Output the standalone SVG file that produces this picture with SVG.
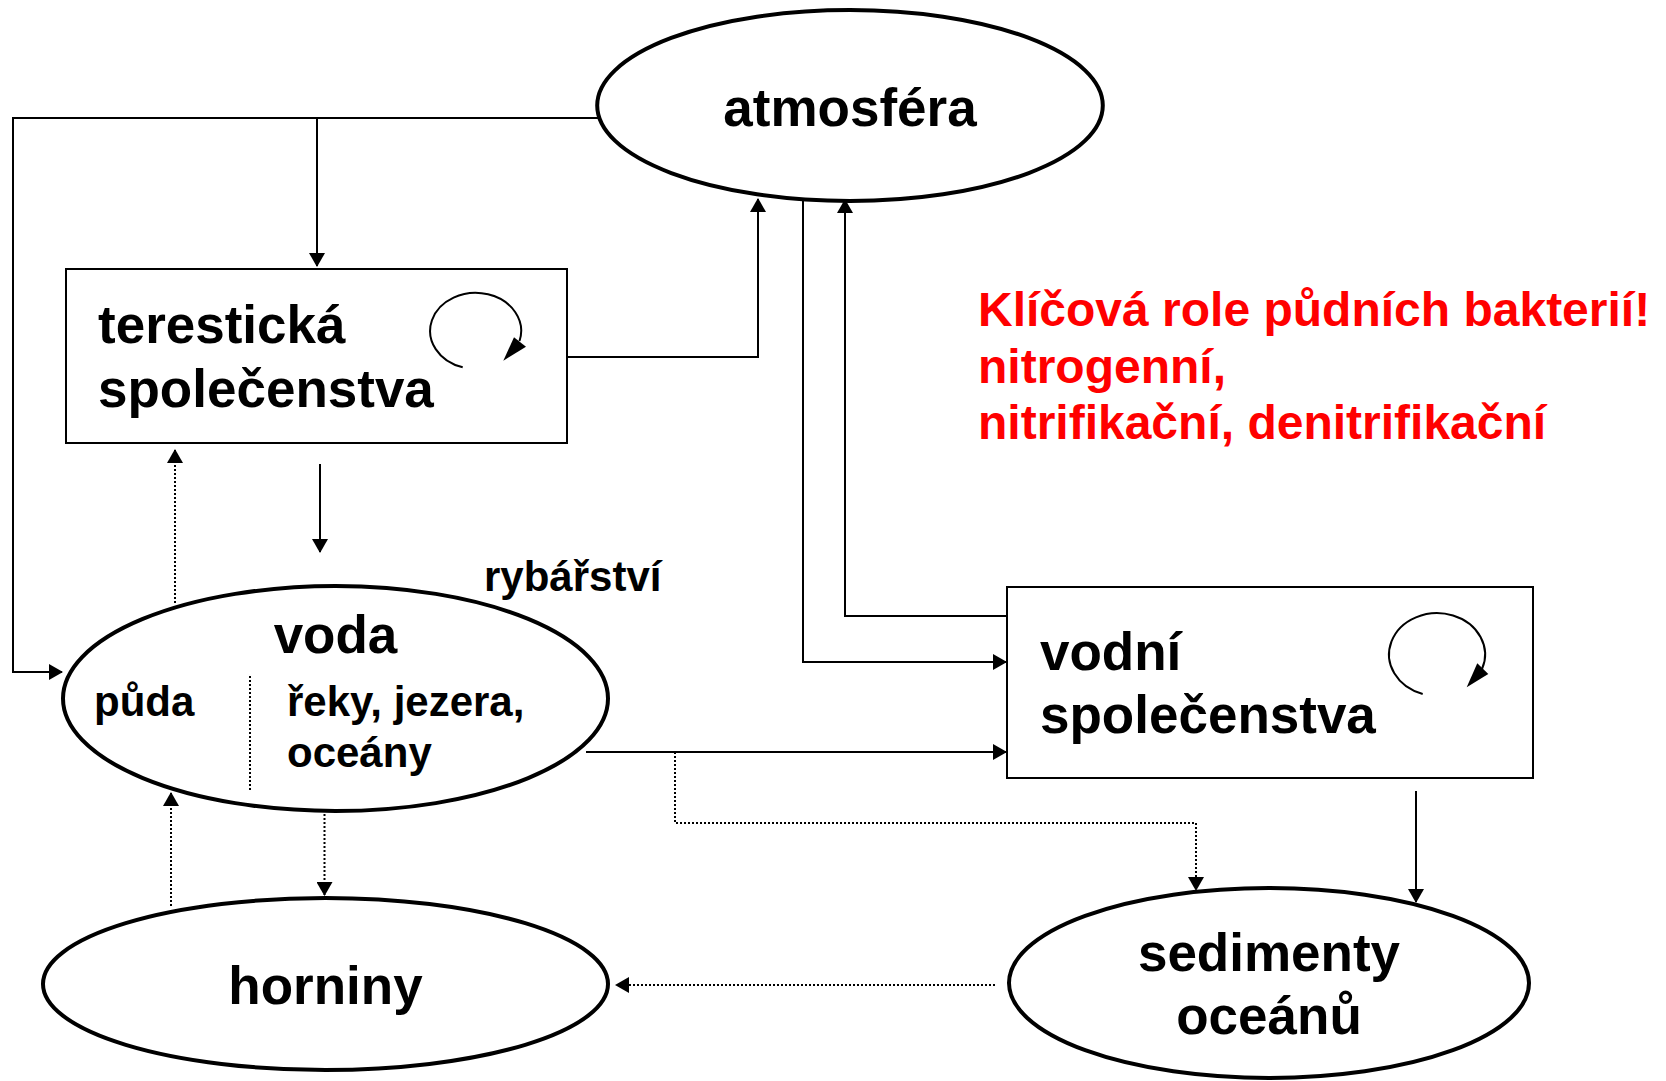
<svg xmlns="http://www.w3.org/2000/svg" width="1666" height="1081" viewBox="0 0 1666 1081">
  <style>
    .node { fill: #ffffff; stroke: #000000; }
    .oval { stroke-width: 4; }
    .box { stroke-width: 2; }
    .lbl { font-family: "Liberation Sans", Arial, sans-serif; font-weight: bold; fill: #000000; }
    .big { font-size: 53px; }
    .small { font-size: 42px; }
    .note { font-family: "Liberation Sans", Arial, sans-serif; font-weight: bold; font-size: 48px; fill: #ff0000; }
    .link { fill: none; stroke: #000000; stroke-width: 2; }
    .dot { fill: none; stroke: #000000; stroke-width: 2; stroke-dasharray: 2 2; }
    .loop { fill: none; stroke: #000000; stroke-width: 2; }
  </style>
  <defs>
    <marker id="head" markerUnits="userSpaceOnUse" viewBox="0 0 14 16" markerWidth="14" markerHeight="16" refX="13" refY="8" orient="auto">
      <path d="M0,0 L14,8 L0,16 z" fill="#000000"/>
    </marker>
  </defs>

  <rect width="1666" height="1081" fill="#ffffff"/>

  <!-- connectors -->
  <g id="connectors">
    <polyline class="link" points="601,118 13,118 13,672 62,672" marker-end="url(#head)"/>
    <line class="link" x1="317" y1="118" x2="317" y2="266" marker-end="url(#head)"/>
    <polyline class="link" points="568,357 758,357 758,199" marker-end="url(#head)"/>
    <polyline class="link" points="803,195 803,662 1006,662" marker-end="url(#head)"/>
    <polyline class="link" points="1007,616 845,616 845,200" marker-end="url(#head)"/>
    <line class="link" x1="320" y1="464" x2="320" y2="552" marker-end="url(#head)"/>
    <line class="dot" x1="175" y1="603" x2="175" y2="450" marker-end="url(#head)"/>
    <line class="dot" x1="324.5" y1="806" x2="324.5" y2="895" marker-end="url(#head)"/>
    <line class="dot" x1="171" y1="906" x2="171" y2="793" marker-end="url(#head)"/>
    <line class="link" x1="586" y1="752" x2="1006" y2="752" marker-end="url(#head)"/>
    <polyline class="dot" points="675,752 675,823 1196,823 1196,890" marker-end="url(#head)"/>
    <line class="link" x1="1416" y1="791" x2="1416" y2="902" marker-end="url(#head)"/>
    <line class="dot" x1="995" y1="985" x2="616" y2="985" marker-end="url(#head)"/>
  </g>

  <!-- atmosphere -->
  <g id="atmosfera">
    <ellipse class="node oval" cx="850" cy="105.5" rx="252.8" ry="95.5"/>
    <text class="lbl big" x="850" y="126" text-anchor="middle">atmosféra</text>
  </g>

  <!-- terrestrial communities -->
  <g id="terestricka-spolecenstva">
    <rect class="node box" x="66" y="269" width="501" height="174"/>
    <text class="lbl big" x="98" y="343">terestická</text>
    <text class="lbl big" x="98" y="407">společenstva</text>
    <path class="loop" d="M462.7,367.3 A45.5,38 0 1 1 519.5,341"/>
    <polygon points="503.3,360.7 514,337.3 526,346.7" fill="#000000"/>
  </g>

  <!-- water -->
  <g id="voda">
    <ellipse class="node oval" cx="335.5" cy="698.5" rx="272.5" ry="112.5"/>
    <text class="lbl big" x="335.5" y="653" text-anchor="middle">voda</text>
    <text class="lbl small" x="94" y="716">půda</text>
    <line class="dot" x1="250" y1="676" x2="250" y2="790"/>
    <text class="lbl small" x="287" y="716">řeky, jezera,</text>
    <text class="lbl small" x="287" y="767">oceány</text>
  </g>

  <text id="rybarstvi" class="lbl small" x="484" y="591">rybářství</text>

  <!-- aquatic communities -->
  <g id="vodni-spolecenstva">
    <rect class="node box" x="1007" y="587" width="526" height="191"/>
    <text class="lbl big" x="1040" y="670">vodní</text>
    <text class="lbl big" x="1040" y="733">společenstva</text>
    <path class="loop" d="M1422.7,694 A48,41.4 0 1 1 1482,669"/>
    <polygon points="1466.7,687.3 1477.3,663.3 1488.3,674" fill="#000000"/>
  </g>

  <!-- rocks -->
  <g id="horniny">
    <ellipse class="node oval" cx="325.5" cy="984" rx="282.5" ry="86"/>
    <text class="lbl big" x="325.5" y="1004" text-anchor="middle">horniny</text>
  </g>

  <!-- ocean sediments -->
  <g id="sedimenty-oceanu">
    <ellipse class="node oval" cx="1269" cy="983" rx="260" ry="95"/>
    <text class="lbl big" x="1269" y="971" text-anchor="middle">sedimenty</text>
    <text class="lbl big" x="1269" y="1034" text-anchor="middle">oceánů</text>
  </g>

  <!-- note on soil bacteria -->
  <g id="poznamka">
    <text class="note" x="978" y="326">Klíčová role půdních bakterií!</text>
    <text class="note" x="978" y="383">nitrogenní,</text>
    <text class="note" x="978" y="439">nitrifikační, denitrifikační</text>
  </g>
</svg>
